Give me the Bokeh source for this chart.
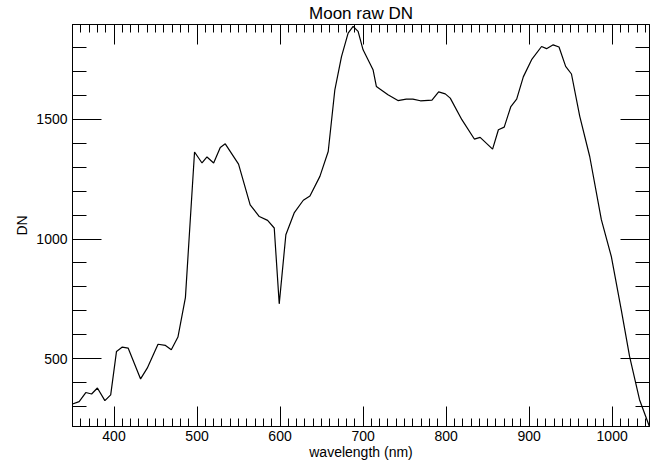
from bokeh.plotting import figure
from bokeh.models import LinearAxis, SingleIntervalTicker, Range1d, CustomJSTickFormatter
from bokeh.embed import file_html
from bokeh.resources import INLINE

wavelength = [350, 358, 366, 373, 380, 389, 396, 403, 410, 417, 432, 440, 453, 462, 469,
              477, 486, 497, 506, 512, 520, 528, 534, 550, 564, 575, 585, 593, 599, 607,
              617, 628, 636, 648, 658, 666, 674, 682, 688, 694, 700, 712, 716, 730, 742,
              752, 760, 769, 783, 791, 799, 805, 819, 834, 841, 856, 863, 870, 878, 885,
              893, 903, 915, 921, 929, 936, 944, 951, 961, 973, 987, 999, 1011, 1021,
              1033, 1045]
dn = [310, 320, 358, 352, 377, 324, 348, 530, 548, 544, 415, 460, 560, 555, 537,
      590, 755, 1364, 1318, 1343, 1318, 1383, 1398, 1313, 1143, 1094, 1078, 1046, 729, 1018,
      1109, 1162, 1180, 1262, 1366, 1624, 1763, 1861, 1889, 1868, 1791, 1708, 1638, 1603, 1579,
      1585, 1585, 1578, 1581, 1615, 1607, 1589, 1499, 1418, 1425, 1376, 1457, 1468, 1554, 1585,
      1678, 1750, 1805, 1796, 1812, 1803, 1722, 1690, 1513, 1345, 1081, 927, 704, 509,
      328, 215]

FONT = "Liberation Sans"

p = figure(width=656, height=463, output_backend="svg", toolbar_location=None,
           x_range=Range1d(350, 1045), y_range=Range1d(216, 1897),
           x_axis_type=None, y_axis_type=None,
           min_border_left=72, min_border_right=7, min_border_top=24, min_border_bottom=37,
           title="Moon raw DN")
p.title.text_font = FONT
p.title.text_font_size = "17px"
p.title.text_font_style = "normal"
p.title.text_color = "black"
p.title.align = "center"
p.title.vertical_align = "top"
p.title.standoff = 0
p.title.offset = 0

p.xgrid.visible = False
p.ygrid.visible = False
p.outline_line_color = "black"
p.outline_line_width = 1
p.background_fill_color = "white"
p.border_fill_color = "white"

def style(ax, major_in, minor_in, labels=True):
    ax.major_tick_in = major_in
    ax.major_tick_out = 0
    ax.minor_tick_in = minor_in
    ax.minor_tick_out = 0
    ax.axis_line_color = "black"
    ax.major_tick_line_color = "black"
    ax.minor_tick_line_color = "black"
    ax.major_tick_line_width = 1
    ax.minor_tick_line_width = 1
    if labels:
        ax.major_label_text_font = FONT
        ax.major_label_text_font_size = "14px"
        ax.major_label_text_color = "black"
        ax.axis_label_text_font = FONT
        ax.axis_label_text_font_size = "14px"
        ax.axis_label_text_font_style = "normal"
        ax.axis_label_text_color = "black"
    else:
        ax.formatter = CustomJSTickFormatter(code="return '';")
        ax.major_label_standoff = 0

xb = LinearAxis(ticker=SingleIntervalTicker(interval=100, num_minor_ticks=10),
                axis_label="wavelength (nm)")
style(xb, 20, 8)
xb.major_label_standoff = 4
xb.axis_label_standoff = 0
p.add_layout(xb, "below")

xt = LinearAxis(ticker=SingleIntervalTicker(interval=100, num_minor_ticks=10))
style(xt, 20, 8, labels=False)
p.add_layout(xt, "above")

yl = LinearAxis(ticker=SingleIntervalTicker(interval=500, num_minor_ticks=5),
                axis_label="DN")
style(yl, 29, 14)
yl.major_label_standoff = 5
yl.axis_label_standoff = 3
p.add_layout(yl, "left")

yr = LinearAxis(ticker=SingleIntervalTicker(interval=500, num_minor_ticks=5))
style(yr, 29, 14, labels=False)
p.add_layout(yr, "right")

p.line(wavelength, dn, line_color="black", line_width=1.2)

open("out.html", "w").write(file_html(p, INLINE))
